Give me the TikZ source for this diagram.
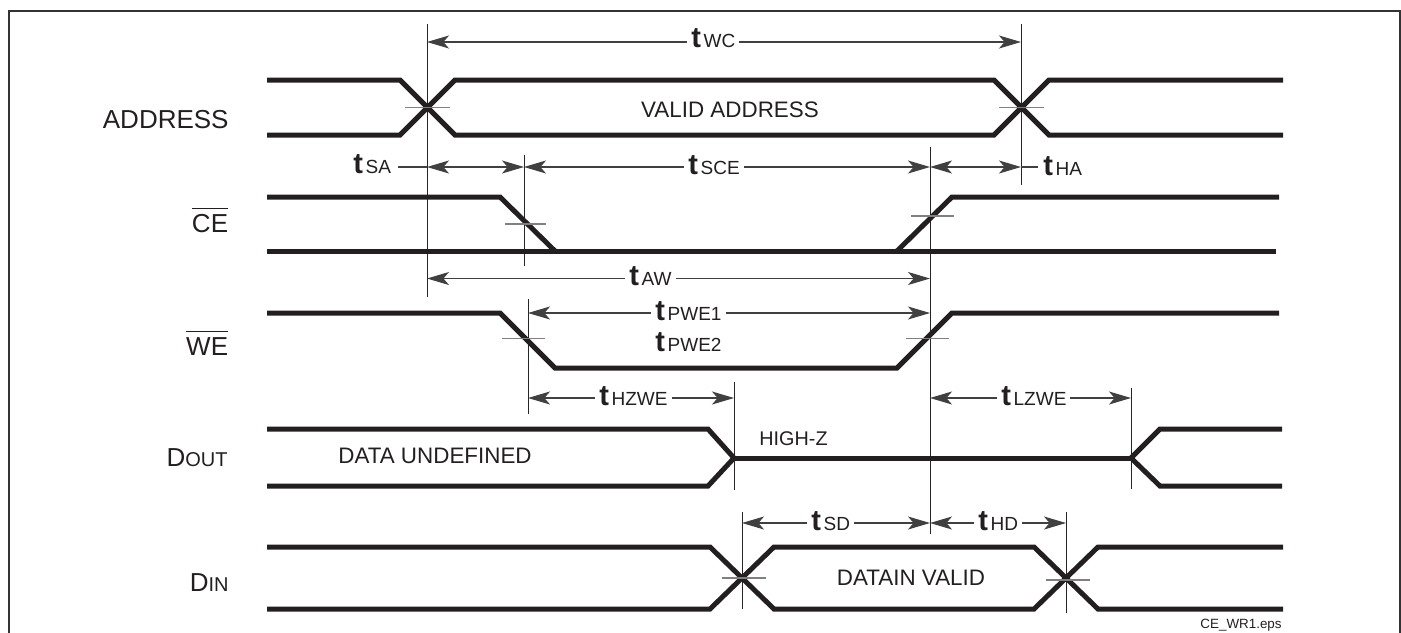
\documentclass[tikz,border=0pt]{standalone}
\usepackage{fontspec}
\setmainfont{Liberation Sans}
\usetikzlibrary{arrows.meta}
\definecolor{ink}{HTML}{231F20}
\newcommand{\tlab}[1]{{\fontsize{14.5}{14}\selectfont\bfseries t}\kern1.3pt{\fontsize{9.5}{10}\selectfont #1}}
\newcommand{\ovl}[1]{\leavevmode\vbox{\hrule height 0.7pt\kern 2.6pt\hbox{#1}}}
\begin{document}
\begin{tikzpicture}[x=0.5pt,y=-0.5pt,
  sig/.style={line width=2.5pt, draw=ink, line join=miter},
  refl/.style={line width=0.5pt, draw=black!85},
  thr/.style={line width=0.6pt, draw=black!50},
  dimline/.style={line width=0.55pt, draw=black!75},
  dimarrow/.style={dimline, {Stealth[length=11pt,width=6.5pt,inset=2.8pt]}-{Stealth[length=11pt,width=6.5pt,inset=2.8pt]}},
  tl/.style={anchor=base west, fill=white, inner xsep=2pt, inner ysep=1pt, text=ink},
  rowlab/.style={anchor=base east, inner sep=0pt, text=ink, font=\fontsize{13}{13}\selectfont},
  sigtxt/.style={inner sep=0pt, text=ink, font=\fontsize{11.2}{12}\selectfont}
]
\useasboundingbox (0,0) rectangle (1401,632);
\clip (0,0) rectangle (1401,632);
% frame
\draw[line width=1pt, draw=black!80] (9,650) -- (9,11) -- (1400,11) -- (1400,650);

% reference (vertical) lines
\coordinate (r1t) at (427,24);   \coordinate (r1b) at (427,297);
\coordinate (r2t) at (1021,24);  \coordinate (r2b) at (1021,185);
\coordinate (r3t) at (524,155);  \coordinate (r3b) at (524,266);
\coordinate (r4t) at (930,147);  \coordinate (r4b) at (930,534);
\coordinate (r5t) at (528,299);  \coordinate (r5b) at (528,414);
\coordinate (r6t) at (734,382);  \coordinate (r6b) at (734,490);
\coordinate (r7t) at (1131,388); \coordinate (r7b) at (1131,489);
\coordinate (r8t) at (742,512);  \coordinate (r8b) at (742,609);
\coordinate (r9t) at (1066,512); \coordinate (r9b) at (1066,613);
\foreach \i in {1,...,9} {\draw[refl] (r\i t) -- (r\i b);}

% signals
% ADDRESS
\draw[sig] (267,80) -- (400,80) -- (455,135) -- (994,135) -- (1049,80) -- (1283,80);
\draw[sig] (267,135) -- (400,135) -- (455,80) -- (994,80) -- (1049,135) -- (1283,135);
% CE
\draw[sig] (267,251) -- (1276,251);
\draw[sig] (267,197) -- (500,197) -- (555,251);
\draw[sig] (897,251) -- (952,197) -- (1279,197);
% WE
\draw[sig] (267,313) -- (500,313) -- (555,368) -- (897,368) -- (952,313) -- (1279,313);
% DOUT
\draw[sig] (267,429) -- (708,429) -- (734,458) -- (708,486) -- (267,486);
\draw[sig] (734,458) -- (1131,458);
\draw[sig] (1282,429) -- (1160,429) -- (1131,458) -- (1160,486) -- (1282,486);
% DIN
\draw[sig] (267,547) -- (710,547) -- (774,609) -- (1034,609) -- (1098,547) -- (1283,547);
\draw[sig] (267,609) -- (710,609) -- (774,547) -- (1034,547) -- (1098,609) -- (1283,609);

% threshold ticks
\draw[thr] (405,107.5) -- (450,107.5);
\draw[thr] (999,107.5) -- (1044,107.5);
\draw[thr] (505,224) -- (546,224);
\draw[thr] (911,216) -- (954,216);
\draw[thr] (502,338.5) -- (545,338.5);
\draw[thr] (906,338.5) -- (949,338.5);
\draw[thr] (722,578) -- (766,578);
\draw[thr] (1046,580) -- (1090,580);

% dimension arrows
\coordinate (wcL) at (427,42);    \coordinate (wcR) at (1021,42);
\coordinate (saL) at (427,167);   \coordinate (saR) at (524,167);
\coordinate (sceR) at (930,167);  \coordinate (haR) at (1021,167);
\coordinate (saLead) at (398,167); \coordinate (haLead) at (1038,167);
\coordinate (awL) at (427,278.5); \coordinate (awR) at (930,278.5);
\coordinate (pwL) at (528,313);   \coordinate (pwR) at (930,313);
\coordinate (hzL) at (528,398);   \coordinate (hzR) at (734,398);
\coordinate (lzL) at (930,398);   \coordinate (lzR) at (1131,398);
\coordinate (sdL) at (742,523);   \coordinate (sdR) at (930,523);
\coordinate (hdR) at (1066,523);

\draw[dimarrow] (wcL) -- (wcR);
\draw[dimarrow] (saL) -- (saR);
\draw[dimline] (saLead) -- (saL);
\draw[dimarrow] (saR) -- (sceR);
\draw[dimarrow] (sceR) -- (haR);
\draw[dimline] (haR) -- (haLead);
\draw[dimarrow] (awL) -- (awR);
\draw[dimarrow] (pwL) -- (pwR);
\draw[dimarrow] (hzL) -- (hzR);
\draw[dimarrow] (lzL) -- (lzR);
\draw[dimarrow] (sdL) -- (sdR);
\draw[dimarrow] (sdR) -- (hdR);

% timing labels
\node[tl] (twc) at (687,47) {\tlab{WC}};
\node[tl, fill=none] (tsa) at (349,173) {\tlab{SA}};
\node[tl] (tsce) at (684,174) {\tlab{SCE}};
\node[tl, fill=none] (tha) at (1039,175) {\tlab{HA}};
\node[tl] (taw) at (625,285) {\tlab{AW}};
\node[tl] (tpwe1) at (651,320) {\tlab{PWE1}};
\node[tl, fill=none] (tpwe2) at (651,351) {\tlab{PWE2}};
\node[tl] (thzwe) at (595,405) {\tlab{HZWE}};
\node[tl] (tlzwe) at (997,405) {\tlab{LZWE}};
\node[tl] (tsd) at (807,530) {\tlab{SD}};
\node[tl] (thd) at (974,530) {\tlab{HD}};

% row labels
\node[rowlab] (addr) at (229,128) {ADDRESS};
\node[rowlab] (ce) at (228.5,232.7) {\ovl{CE}};
\node[rowlab] (we) at (228.5,355) {\ovl{WE}};
\node[rowlab] (dout) at (228,466.7) {D{\fontsize{10}{10}\selectfont OUT}};
\node[rowlab] (din) at (229,591.7) {D{\fontsize{10}{10}\selectfont IN}};

% texts inside signals
\node[sigtxt, anchor=base] (va) at (730,117) {VALID ADDRESS};
\node[sigtxt, anchor=base] (du) at (435,463) {DATA UNDEFINED};
\node[sigtxt, anchor=base west, font=\fontsize{9.9}{11}\selectfont] (hz) at (759,445) {HIGH-Z};
\node[sigtxt, anchor=base] (dv) at (911,585) {DATAIN VALID};
\node[inner sep=0pt, anchor=base east, text=ink, font=\fontsize{6.7}{7}\selectfont] (fn) at (1282,628.5) {CE\_WR1.eps};
\end{tikzpicture}
\end{document}
